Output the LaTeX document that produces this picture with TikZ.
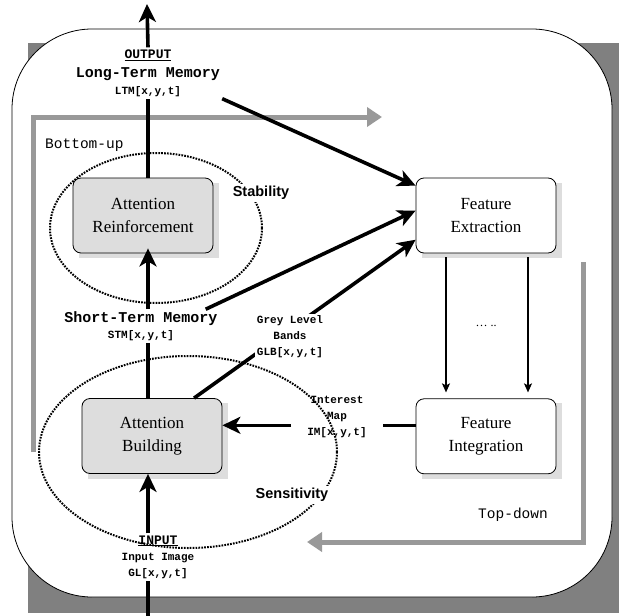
\documentclass[tikz,border=0pt]{standalone}
\usepackage{fontspec}
\usepackage{tikz}
\usetikzlibrary{
  arrows.meta,
  positioning,
  calc,
  backgrounds
}
\newfontfamily\atmono{Liberation Mono}
\newfontfamily\atserif{Liberation Serif}
\newfontfamily\atsans{Liberation Sans}
\definecolor{atFrame}{HTML}{808080}
\definecolor{atFlow}{HTML}{999999}
\definecolor{atBox}{HTML}{DDDDDD}
\pgfdeclarelayer{frame}
\pgfsetlayers{frame,background,main}
\tikzset{
  atnode/.style={
    draw, rounded corners=8pt, minimum width=140pt, minimum height=75pt,
    align=center, line width=0.8pt, font=\atserif\fontsize{17}{23}\selectfont
  },
  attbox/.style={atnode, fill=atBox},
  featbox/.style={atnode, fill=white},
  memtag/.style={align=center, inner sep=2pt, font=\atmono\bfseries\fontsize{11}{16}\selectfont},
  zonetag/.style={fill=white, inner sep=2pt, font=\atsans\bfseries\fontsize{14.5}{17}\selectfont},
  flowtag/.style={inner sep=1pt, font=\atmono\fontsize{14.5}{17}\selectfont},
  zone/.style={line width=2pt, dash pattern=on 1.7pt off 1.2pt},
  flowarrow/.style={-{Triangle[length=15pt,width=19pt]}, line width=5pt, atFlow},
  thickline/.style={line width=3.6pt},
  thickarrow/.style={thickline, -{Stealth[length=18pt,width=17pt,inset=5pt]}},
  thinarrow/.style={-{Stealth[length=9pt,width=8pt,inset=2pt]}, line width=1.3pt}
}
\begin{document}
\begin{tikzpicture}[x=1pt,y=-1pt]
  \useasboundingbox (0,0) rectangle (619,616);
  \begin{pgfonlayer}{frame}
    \fill[atFrame] (28,43) rectangle (619,613);
    \draw[fill=white, rounded corners=80pt, line width=0.8pt] (12,29) rectangle (612,597);
  \end{pgfonlayer}

  % processing boxes
  \node[attbox] (reinf) at (143,215.5) {Attention\\Reinforcement};
  \node[attbox] (build) at (152,436) {Attention\\Building};
  \node[featbox] (extract) at (486,215.5) {Feature\\Extraction};
  \node[featbox, below=145pt of extract.south, anchor=north] (integr) {Feature\\Integration};
  \begin{scope}[on background layer]
    \foreach \b in {reinf,build,extract,integr}
      \fill[atBox] ($(\b.south west)+(6,5)$) rectangle ($(\b.north east)+(6,5)$);
  \end{scope}

  % memories
  \node[memtag] (ltm) at (148,73) {{\fontsize{13}{15}\selectfont\underline{OUTPUT}}\\[3pt]{\fontsize{15}{18}\selectfont Long-Term Memory}\\[1pt]LTM[x,y,t]};
  \node[memtag] (stm) at (141,326) {{\fontsize{15}{18}\selectfont Short-Term Memory}\\STM[x,y,t]};
  \node[memtag, inner xsep=16pt] (imap) at (337,417) {Interest\\Map\\IM[x,y,t]};
  \node[memtag] (inp) at (158,557) {{\fontsize{13}{15}\selectfont\underline{INPUT}}\\Input Image\\GL[x,y,t]};

  % stability / sensitivity loops
  \draw[zone] (156,228) ellipse [x radius=106pt, y radius=75pt];
  \draw[zone] (188,452) ellipse [x radius=149pt, y radius=96pt];

  % bottom-up and top-down flows
  \coordinate (bu1) at (33,452);
  \coordinate (bu2) at (33,117);
  \coordinate (bu3) at (382,117);
  \coordinate (td1) at (583,262);
  \coordinate (td2) at (583,542);
  \coordinate (td3) at (307,542);
  \draw[flowarrow] (bu1) -- (bu2) -- (bu3);
  \draw[flowarrow] (td1) -- (td2) -- (td3);
  \node[flowtag, anchor=west] (bottomup) at (44,145) {Bottom-up};
  \node[flowtag, anchor=west] (topdown) at (477,515) {Top-down};

  % main stream
  \coordinate (axis) at (148,0);
  \coordinate (inbot) at (148,616);
  \coordinate (outtop) at (147,4);
  \draw[thickline] (inbot) -- (inbot |- inp.south);
  \draw[thickarrow] (axis |- inp.north) -- (axis |- build.south);
  \draw[thickline] (axis |- build.north) -- (axis |- stm.south);
  \draw[thickarrow, shorten >=-5pt] (axis |- stm.north) -- (axis |- reinf.south);
  \draw[thickline] (axis |- reinf.north) -- (axis |- ltm.south);
  \draw[thickarrow] (axis |- ltm.north) -- (outtop);

  % towards the features
  \draw[thickarrow] (ltm.south east) -- (extract.157);
  \draw[thickarrow] ([xshift=-14pt]stm.north east) -- (extract.176);
  \draw[thickarrow] (build.42) -- (extract.199);
  \node[memtag, fill=white] (glb) at (290,337) {Grey Level\\Bands\\GLB[x,y,t]};
  \draw[thinarrow, shorten <=4pt, shorten >=6pt] ([xshift=-40pt]extract.south) -- ([xshift=-40pt]integr.north);
  \draw[thinarrow, shorten <=4pt, shorten >=6pt] ([xshift=42pt]extract.south) -- ([xshift=42pt]integr.north);
  \node[font=\atserif\fontsize{12}{14}\selectfont] (more) at ($(extract.south)!0.5!(integr.north)$) {… ..};

  % interest map back to attention
  \coordinate (fiw) at ([yshift=11pt]integr.west);
  \draw[thickline] (fiw) -- (fiw -| imap.east);
  \draw[thickarrow] (fiw -| imap.west) -- (fiw -| build.east);

  \node[zonetag] (stab) at (261,193) {Stability};
  \node[zonetag] (sens) at (292,495) {Sensitivity};
\end{tikzpicture}
\end{document}
